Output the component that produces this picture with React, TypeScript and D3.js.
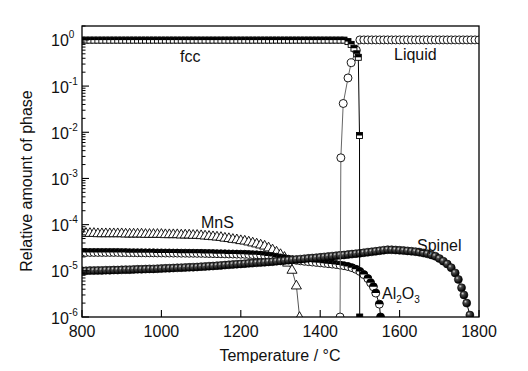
import React from 'react';
import * as d3 from 'd3';

// calculation grid: every 10 °C from 800 °C
const GRID_START = 800;
const GRID_STEP = 10;

const xTicks = [800, 1000, 1200, 1400, 1600, 1800];
const yDecades = [0, -1, -2, -3, -4, -5, -6];

// fcc, 800..1460
const fccValues = [
  0.99, 0.99, 0.99, 0.99, 0.99, 0.99, 0.99, 0.99, 0.99, 0.99,
  0.99, 0.99, 0.99, 0.99, 0.99, 0.99, 0.99, 0.99, 0.99, 0.99,
  0.99, 0.99, 0.99, 0.99, 0.99, 0.99, 0.99, 0.99, 0.99, 0.99,
  0.99, 0.99, 0.99, 0.99, 0.99, 0.99, 0.99, 0.99, 0.99, 0.99,
  0.99, 0.99, 0.99, 0.99, 0.99, 0.99, 0.99, 0.99, 0.99, 0.99,
  0.99, 0.99, 0.99, 0.99, 0.99, 0.99, 0.99, 0.99, 0.99, 0.99,
  0.99, 0.99, 0.99, 0.99, 0.99, 0.99, 0.99,
];
const fccTail = [[1470, 0.92], [1478, 0.8], [1485, 0.66], [1492, 0.5], [1496, 0.42], [1499, 0.0085], [1499.5, 1e-6]];

// Liquid, 1500..1800 plus the melting points before it
const liquidLead = [[1450, 1e-6], [1452, 0.0028], [1458, 0.042], [1470, 0.15], [1478, 0.32], [1491, 0.6]];
const liquidStart = 1500;
const liquidValues = [
  1, 1, 1, 1, 1, 1, 1, 1, 1, 1,
  1, 1, 1, 1, 1, 1, 1, 1, 1, 1,
  1, 1, 1, 1, 1, 1, 1, 1, 1, 1, 1,
];

// MnS (x1e-5), 800..1310
const mnsValues = [
  6.6, 6.6, 6.6, 6.6, 6.5, 6.5, 6.5, 6.5, 6.5, 6.5,
  6.5, 6.4, 6.4, 6.4, 6.4, 6.4, 6.3, 6.3, 6.3, 6.3,
  6.3, 6.2, 6.2, 6.2, 6.2, 6.1, 6.1, 6.1, 6.0, 6.0,
  5.9, 5.8, 5.7, 5.6, 5.5, 5.4, 5.2, 5.1, 4.9, 4.8,
  4.6, 4.5, 4.3, 4.1, 3.9, 3.7, 3.5, 3.2, 2.9, 2.6,
  2.3, 2.0,
];
const mnsTail = [[1318, 1.5e-5], [1329, 1.05e-5], [1340, 4.8e-6], [1348, 1e-6]];

// Al2O3 (x1e-5), 800..1500
const al2o3Values = [
  2.5, 2.5, 2.5, 2.5, 2.5, 2.5, 2.5, 2.5, 2.5, 2.5,
  2.48, 2.48, 2.47, 2.47, 2.46, 2.46, 2.45, 2.45, 2.45, 2.44,
  2.44, 2.43, 2.43, 2.42, 2.42, 2.41, 2.41, 2.4, 2.4, 2.39,
  2.39, 2.38, 2.37, 2.36, 2.35, 2.34, 2.33, 2.32, 2.31, 2.3,
  2.29, 2.28, 2.26, 2.24, 2.22, 2.19, 2.15, 2.1, 2.04, 1.97,
  1.9, 1.84, 1.78, 1.73, 1.69, 1.65, 1.61, 1.58, 1.55, 1.52,
  1.49, 1.46, 1.43, 1.4, 1.37, 1.33, 1.29, 1.24, 1.17, 1.08,
  0.97,
];
const al2o3Tail = [[1510, 8.3e-6], [1520, 6.8e-6], [1527, 5.5e-6], [1534, 4.5e-6], [1540, 3.3e-6], [1549, 1.9e-6], [1552, 1e-6]];

// Spinel (x1e-5), 800..1730
const spinelValues = [
  1.0, 1.0, 1.01, 1.01, 1.02, 1.02, 1.03, 1.03, 1.04, 1.04,
  1.05, 1.06, 1.06, 1.07, 1.08, 1.08, 1.09, 1.1, 1.1, 1.11,
  1.12, 1.13, 1.14, 1.15, 1.16, 1.17, 1.18, 1.19, 1.2, 1.21,
  1.23, 1.24, 1.26, 1.27, 1.29, 1.31, 1.33, 1.35, 1.37, 1.39,
  1.41, 1.43, 1.45, 1.47, 1.49, 1.51, 1.53, 1.56, 1.58, 1.61,
  1.64, 1.67, 1.7, 1.73, 1.76, 1.79, 1.82, 1.86, 1.89, 1.92,
  1.96, 2.0, 2.04, 2.08, 2.12, 2.16, 2.2, 2.25, 2.3, 2.35,
  2.4, 2.46, 2.52, 2.58, 2.65, 2.72, 2.8, 2.86, 2.85, 2.82,
  2.78, 2.74, 2.7, 2.65, 2.6, 2.52, 2.43, 2.33, 2.21, 2.07,
  1.85, 1.62, 1.4, 1.17,
];
const spinelTail = [[1740, 9e-6], [1748, 6.5e-6], [1756, 4.3e-6], [1762, 3e-6], [1769, 2e-6], [1777, 1.1e-6], [1781, 7e-7]];

const onGrid = (start, values, scale = 1) =>
  values.map((v, i) => [start + i * GRID_STEP, v * scale]);

const fccPts = [...onGrid(GRID_START, fccValues), ...fccTail];
const liquidPts = [...liquidLead, ...onGrid(liquidStart, liquidValues)];
const mnsPts = [...onGrid(GRID_START, mnsValues, 1e-5), ...mnsTail];
const al2o3Pts = [...onGrid(GRID_START, al2o3Values, 1e-5), ...al2o3Tail];
const spinelPts = [...onGrid(GRID_START, spinelValues, 1e-5), ...spinelTail];

const W = 528;
const H = 371;
const left = 82, right = 479, top = 26, bottom = 317;
const FONT = '"Liberation Sans", Arial, sans-serif';

export default function App() {
  const x = d3.scaleLinear().domain([800, 1800]).range([left, right]);
  const y = d3.scaleLog().domain([1e-6, 2]).range([bottom, top]);
  const line = d3.line().x(d => x(d[0])).y(d => y(d[1]));

  const minorTicks = [];
  for (let e = -6; e < 0; e++) {
    for (let m = 2; m <= 9; m++) minorTicks.push(m * Math.pow(10, e));
  }
  minorTicks.push(2);

  const r = 4;
  const halfCircle = `M${-r},0A${r},${r} 0 0 1 ${r},0Z`;
  const tri = d3.symbol().type(d3.symbolTriangle).size(44)();

  return (
    <div style={{ margin: -8 }}>
      <svg width={W} height={H} style={{ display: 'block', background: '#fff' }} fontFamily={FONT}>
        <defs>
          <clipPath id="plot">
            <rect x={left} y={top} width={right - left} height={bottom - top} />
          </clipPath>
          <radialGradient id="ball" cx="0.35" cy="0.32" r="0.65">
            <stop offset="0" stopColor="#d8d8d8" />
            <stop offset="0.3" stopColor="#4a4a4a" />
            <stop offset="1" stopColor="#000" />
          </radialGradient>
        </defs>

        <g clipPath="url(#plot)">
          {/* MnS */}
          <path d={line(mnsPts)} fill="none" stroke="#555" strokeWidth={1} />
          {mnsPts.map((d, i) => (
            <path key={'m' + i} d={tri} transform={`translate(${x(d[0])},${y(d[1]) + 0.5})`}
              fill="#fff" stroke="#000" strokeWidth={0.9} />
          ))}

          {/* Al2O3 */}
          <path d={line(al2o3Pts)} fill="none" stroke="#000" strokeWidth={1} />
          {al2o3Pts.map((d, i) => (
            <g key={'a' + i} transform={`translate(${x(d[0])},${y(d[1])})`}>
              <circle r={r} fill="#fff" stroke="#000" strokeWidth={0.9} />
              <path d={halfCircle} fill="#000" />
            </g>
          ))}

          {/* Spinel */}
          <path d={line(spinelPts)} fill="none" stroke="#000" strokeWidth={1} />
          {spinelPts.map((d, i) => (
            <circle key={'s' + i} cx={x(d[0])} cy={y(d[1])} r={r} fill="url(#ball)" stroke="#000" strokeWidth={0.6} />
          ))}

          {/* Liquid */}
          <path d={line(liquidPts)} fill="none" stroke="#666" strokeWidth={1} />
          {liquidPts.map((d, i) => (
            <circle key={'l' + i} cx={x(d[0])} cy={y(d[1])} r={r} fill="#fff" stroke="#000" strokeWidth={0.9} />
          ))}

          {/* fcc */}
          <path d={line(fccPts)} fill="none" stroke="#000" strokeWidth={1} />
          {fccPts.map((d, i) => (
            <g key={'f' + i} transform={`translate(${x(d[0])},${y(d[1])})`}>
              <rect x={-3} y={-3} width={6} height={6} fill="#fff" stroke="#000" strokeWidth={0.9} />
              <rect x={-3} y={-3} width={6} height={3} fill="#000" />
            </g>
          ))}
        </g>

        {/* frame */}
        <rect x={left} y={top} width={right - left} height={bottom - top} fill="none" stroke="#000" strokeWidth={1.3} />

        {/* x axis */}
        {xTicks.map(t => (
          <g key={'xt' + t}>
            <line x1={x(t)} x2={x(t)} y1={bottom} y2={bottom - 7} stroke="#000" strokeWidth={1.1} />
            <text x={x(t)} y={337} textAnchor="middle" fontSize={16} fill="#111">{t}</text>
          </g>
        ))}
        <text x={280} y={361} textAnchor="middle" fontSize={16} fill="#111">Temperature / °C</text>

        {/* y axis */}
        {minorTicks.map((t, i) => (
          <line key={'ym' + i} x1={left} x2={left + 3.5} y1={y(t)} y2={y(t)} stroke="#000" strokeWidth={1} />
        ))}
        {yDecades.map(e => (
          <g key={'yd' + e}>
            <line x1={left} x2={left + 7} y1={y(Math.pow(10, e))} y2={y(Math.pow(10, e))} stroke="#000" strokeWidth={1.1} />
            <text x={51} y={y(Math.pow(10, e)) + 6.5} fontSize={16} fill="#111">
              10<tspan fontSize={10} dy={-8}>{e}</tspan>
            </text>
          </g>
        ))}
        <text transform="translate(32,181) rotate(-90)" textAnchor="middle" fontSize={16} fill="#111">
          Relative amount of phase
        </text>

        {/* phase labels */}
        <text x={180} y={62} fontSize={16} fill="#111">fcc</text>
        <text x={394} y={60} fontSize={16} fill="#111">Liquid</text>
        <text x={201} y={228} fontSize={16} fill="#111">MnS</text>
        <text x={417} y={251} fontSize={16} fill="#111">Spinel</text>
        <text x={382} y={299} fontSize={16} fill="#111">
          Al<tspan fontSize={10} dy={4}>2</tspan><tspan fontSize={16} dy={-4}>O</tspan><tspan fontSize={10} dy={4}>3</tspan>
        </text>
      </svg>
    </div>
  );
}
